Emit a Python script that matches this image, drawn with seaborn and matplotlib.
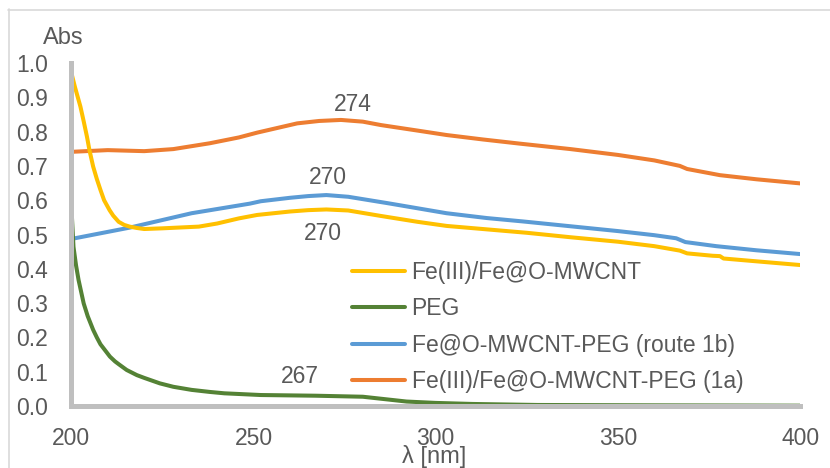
import matplotlib
matplotlib.use("Agg")
import matplotlib.pyplot as plt
from matplotlib.lines import Line2D
import seaborn as sns
import pandas as pd

# UV-Vis absorbance spectra (wavelength in nm, absorbance)
wl_fe = [200, 201, 202.5, 203.4, 204.3, 205, 206, 207, 208, 209, 210.5, 211.5, 213,
         214.5, 216, 218, 220, 225, 229, 235, 240, 246, 251, 260, 265, 270, 276, 285,
         295, 303, 314, 325, 337, 350, 360, 367, 369, 376, 378, 379, 390, 400]
abs_fe = [0.972, 0.930, 0.873, 0.830, 0.785, 0.745, 0.698, 0.662, 0.630, 0.600, 0.571,
          0.555, 0.537, 0.528, 0.523, 0.519, 0.516, 0.518, 0.520, 0.523, 0.532, 0.547,
          0.557, 0.567, 0.571, 0.573, 0.570, 0.554, 0.537, 0.525, 0.515, 0.505, 0.492,
          0.479, 0.466, 0.453, 0.445, 0.438, 0.437, 0.430, 0.420, 0.411]

wl_peg = [200, 200.6, 201.3, 202, 203.4, 204.5, 206, 207, 208, 210.6, 212, 213, 215.2,
          218, 220, 224.3, 228, 233, 238, 242, 252, 267, 280, 286, 292, 300, 310, 328,
          360, 400]
abs_peg = [0.586, 0.464, 0.410, 0.367, 0.299, 0.262, 0.222, 0.200, 0.180, 0.144, 0.130,
           0.122, 0.105, 0.090, 0.082, 0.066, 0.056, 0.047, 0.041, 0.037, 0.032, 0.030,
           0.027, 0.020, 0.013, 0.009, 0.006, 0.003, 0.002, 0.001]

wl_1b = [200, 216, 233, 249, 252, 260, 265, 270, 276, 287, 303, 314, 324, 337, 350, 360,
         366, 368.5, 377, 388, 400]
abs_1b = [0.487, 0.520, 0.562, 0.590, 0.597, 0.607, 0.612, 0.615, 0.610, 0.591, 0.562,
          0.548, 0.538, 0.524, 0.510, 0.498, 0.489, 0.478, 0.466, 0.454, 0.443]

wl_1a = [200, 210, 220, 228, 238, 246, 251, 262, 268, 274, 280, 285, 295, 303, 313, 323,
         337, 350, 360, 367, 369, 378, 388, 400]
abs_1a = [0.741, 0.746, 0.743, 0.749, 0.766, 0.783, 0.797, 0.824, 0.831, 0.834, 0.829,
          0.819, 0.803, 0.790, 0.777, 0.765, 0.749, 0.732, 0.716, 0.700, 0.691, 0.673,
          0.661, 0.649]

series_names = ["Fe(III)/Fe@O-MWCNT", "PEG", "Fe@O-MWCNT-PEG (route 1b)",
                "Fe(III)/Fe@O-MWCNT-PEG (1a)"]
series_colors = ["#FFC000", "#548235", "#5B9BD5", "#ED7D31"]

# Peak labels: (text, wavelength, absorbance where the text sits)
peak_labels = [("274", 277.3, 0.880), ("270", 270.4, 0.665),
               ("270", 269.0, 0.504), ("267", 262.7, 0.085)]

x_ticks = [200, 250, 300, 350, 400]
y_ticks = [0.0, 0.1, 0.2, 0.3, 0.4, 0.5, 0.6, 0.7, 0.8, 0.9, 1.0]

frames = []
for name, wl, ab in zip(series_names,
                        [wl_fe, wl_peg, wl_1b, wl_1a],
                        [abs_fe, abs_peg, abs_1b, abs_1a]):
    frames.append(pd.DataFrame({"wl": wl, "abs": ab, "sample": name}))
df = pd.concat(frames, ignore_index=True)

sns.set_theme(style="white")
plt.rcParams["font.family"] = ["Liberation Sans", "DejaVu Sans"]
text_color = "#595959"
fs = 16.5

fig = plt.figure(figsize=(8.3, 4.68), dpi=100)
ax = fig.add_axes([71.3 / 830, 1 - 406 / 468, (800.1 - 71.3) / 830, (406 - 63) / 468])

# draw the last series first so the yellow curve sits on top
for name in reversed(series_names):
    sub = df[df["sample"] == name]
    sns.lineplot(data=sub, x="wl", y="abs", ax=ax,
                 color=series_colors[series_names.index(name)],
                 lw=2.9, estimator=None, sort=False, legend=False)

ax.set_xlim(200, 400)
ax.set_ylim(0, 1.0)
ax.set_xticks(x_ticks)
ax.set_xticklabels([str(t) for t in x_ticks])
ax.set_yticks(y_ticks)
ax.set_yticklabels([f"{t:.1f}" for t in y_ticks])
ax.tick_params(axis="both", length=0, labelsize=fs, colors=text_color)
ax.tick_params(axis="y", pad=17)
ax.tick_params(axis="x", pad=15)
ax.set_xlabel("")
ax.set_ylabel("")
for side in ["top", "right"]:
    ax.spines[side].set_visible(False)
for side in ["left", "bottom"]:
    ax.spines[side].set_color("#BFBFBF")
    ax.spines[side].set_linewidth(3.6)
ax.set_facecolor("white")
ax.grid(False)

for txt, x, y in peak_labels:
    ax.text(x, y, txt, ha="center", va="center", fontsize=fs, color=text_color)

handles = [Line2D([0], [0], color=c, lw=2.9) for c in series_colors]
leg = fig.legend(handles, series_names, loc="upper left",
                 bbox_to_anchor=(352 / 830, 1 - 261 / 468), frameon=False,
                 fontsize=fs, handlelength=2.3, handletextpad=0.3,
                 labelspacing=0.58, borderpad=0, borderaxespad=0)
for t in leg.get_texts():
    t.set_color(text_color)

fig.text(63 / 830, 1 - 38 / 468, "Abs", ha="center", va="center",
         fontsize=fs + 0.5, color=text_color)
fig.text(434 / 830, 1 - 456 / 468, "λ [nm]", ha="center", va="center",
         fontsize=fs + 0.5, color=text_color)

# light chart-area border along the top and left edges
fig.add_artist(Line2D([8.5 / 830, 8.5 / 830], [0, 1 - 9 / 468],
                      transform=fig.transFigure, color="#D9D9D9", lw=1.2))
fig.add_artist(Line2D([8 / 830, 1], [1 - 9.5 / 468, 1 - 9.5 / 468],
                      transform=fig.transFigure, color="#D9D9D9", lw=1.2))

fig.savefig("out.png", dpi=100, facecolor="white")
